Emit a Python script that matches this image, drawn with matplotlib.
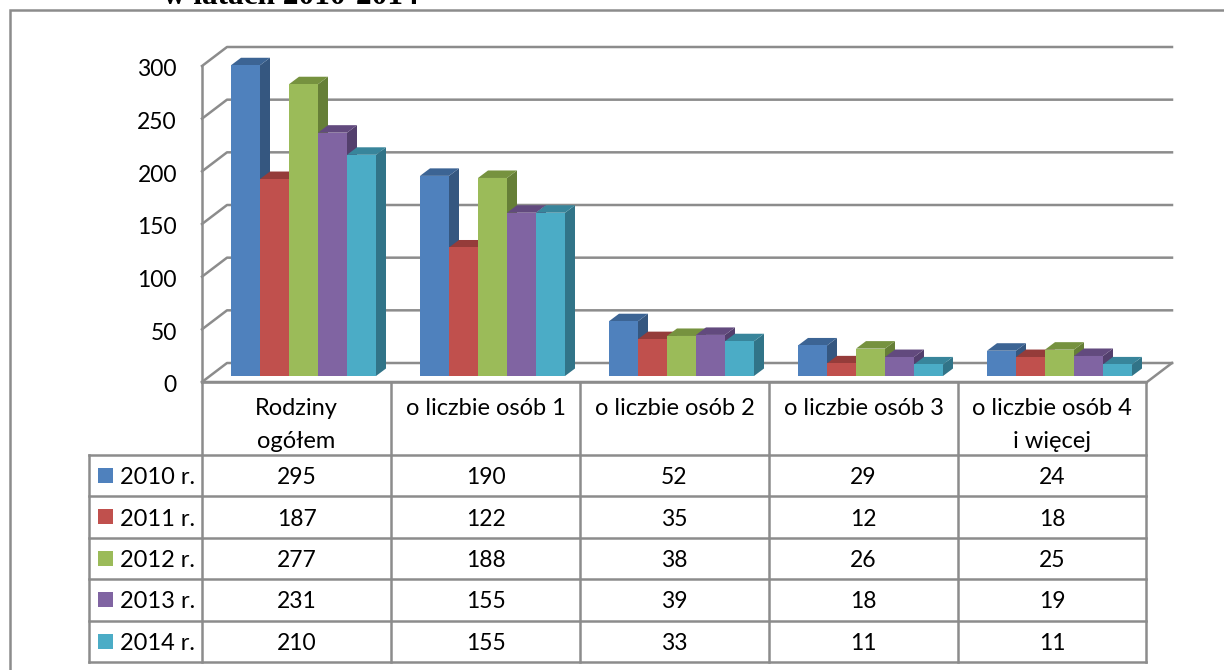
# Chart with data table, faked 3D columns like the Excel original
import matplotlib as mpl
mpl.use('Agg')
import matplotlib.pyplot as plt
from matplotlib.transforms import ScaledTranslation, offset_copy
import numpy as np

categories = ['Rodziny\nogółem', 'o liczbie osób 1', 'o liczbie osób 2', 'o liczbie osób 3', 'o liczbie osób 4\ni więcej']
series_names = ['2010 r.', '2011 r.', '2012 r.', '2013 r.', '2014 r.']
v2010 = [295, 190, 52, 29, 24]
v2011 = [187, 122, 35, 12, 18]
v2012 = [277, 188, 38, 26, 25]
v2013 = [231, 155, 39, 18, 19]
v2014 = [210, 155, 33, 11, 11]
yticks = [0, 50, 100, 150, 200, 250, 300]
title_text = 'w latach 2010-2014'

series = [v2010, v2011, v2012, v2013, v2014]
face = ['#4F81BD', '#C0504D', '#9BBB59', '#8064A2', '#4BACC6']
top = ['#3C6494', '#953C3A', '#76923F', '#624A7E', '#38859B']
side = ['#355780', '#823432', '#667F37', '#533F6D', '#317488']
GRAY = '#8c8c8c'

plt.rcParams['font.family'] = ['Lato', 'DejaVu Sans']

fig = plt.figure(figsize=(12.24, 6.7), dpi=100)
W, H = 1224, 670

# Pixel axes for the outer frame and the table
tb = fig.add_axes([0, 0, 1, 1])
tb.set_xlim(0, W)
tb.set_ylim(H, 0)
tb.axis('off')

# Value axes, front plane of the columns
x0, x1, y0, y300 = 202, 1147, 376, 60
ax = fig.add_axes([x0 / W, 1 - y0 / H, (x1 - x0) / W, (y0 - y300) / H])
ax.set_xlim(0, 5)
ax.set_ylim(0, 300)
ax.patch.set_alpha(0)
for s in ax.spines.values():
    s.set_visible(False)
ax.set_xticks([])
ax.set_yticks(yticks)
ax.tick_params(axis='y', length=0, pad=18, labelsize=16.5)
for lab in ax.get_yticklabels():
    lab.set_transform(lab.get_transform() + ScaledTranslation(0, -8 / 100, fig.dpi_scale_trans))

px_x = 5 / (x1 - x0)
px_y = 300 / (y0 - y300)

# Walls and floor
front = offset_copy(ax.transData, fig, x=0, y=-6, units='dots')
dx, dy = 25 * px_x, 19 * px_y
line = dict(color=GRAY, lw=1.8, transform=front, clip_on=False, zorder=1, solid_capstyle='projecting')
for v in yticks:
    ax.plot([0, dx, 5 + dx], [v, v + dy, v + dy], **line)
ax.plot([0, 0], [0, 300], **line)
ax.plot([0, 5, 5 + dx], [0, 0, dy], **line)

# Columns
group_w = 145 / 189
bar_w = group_w / 5
start = 29 / 189
bx, by = 10 * px_x, 7.5 * px_y
for c in range(len(categories)):
    for i, vals in enumerate(series):
        left = c + start + i * bar_w
        right = left + bar_w
        v = vals[c]
        ax.fill([right, right + bx, right + bx, right], [0, by, v + by, v], color=side[i], lw=0, zorder=3, clip_on=False)
        ax.fill([left, left + bx, right + bx, right], [v, v + by, v + by, v], color=top[i], lw=0, zorder=3, clip_on=False)
        ax.bar(left, v, bar_w, align='edge', color=face[i], lw=0, zorder=3)

# Outer frame and the cut-off caption
tb.plot([10, 10, W], [H, 10, 10], color=GRAY, lw=1.8, solid_joinstyle='miter')
tb.text(163, 4, title_text, family='Liberation Serif', weight='bold', fontsize=22.5, va='baseline', ha='left')

# Table
col_x = [202, 391, 580, 769, 958, 1146]
row_y = [455, 496, 538, 579, 621, 662]
head_y = 382
legend_x = 89
tl = dict(color=GRAY, lw=1.8, solid_capstyle='projecting')
for x in col_x:
    tb.plot([x, x], [head_y, row_y[-1]], **tl)
tb.plot([legend_x, legend_x], [row_y[0], row_y[-1]], **tl)
tb.plot([col_x[0], col_x[-1]], [head_y, head_y], **tl)
for y in row_y:
    tb.plot([legend_x, col_x[-1]], [y, y], **tl)

for c, name in enumerate(categories):
    xc = (col_x[c] + col_x[c + 1]) / 2
    tb.text(xc, 398, name, ha='center', va='top', fontsize=17, linespacing=1.72)

for i, name in enumerate(series_names):
    ym = (row_y[i] + row_y[i + 1]) / 2
    tb.fill([98, 113, 113, 98], [ym - 8, ym - 8, ym + 7, ym + 7], color=face[i], lw=0)
    tb.text(120, ym, name, ha='left', va='center_baseline', fontsize=17)
    for c, v in enumerate(series[i]):
        xc = (col_x[c] + col_x[c + 1]) / 2
        tb.text(xc, ym, str(v), ha='center', va='center_baseline', fontsize=16.5)

fig.savefig('out.png', dpi=100)
print("done")
